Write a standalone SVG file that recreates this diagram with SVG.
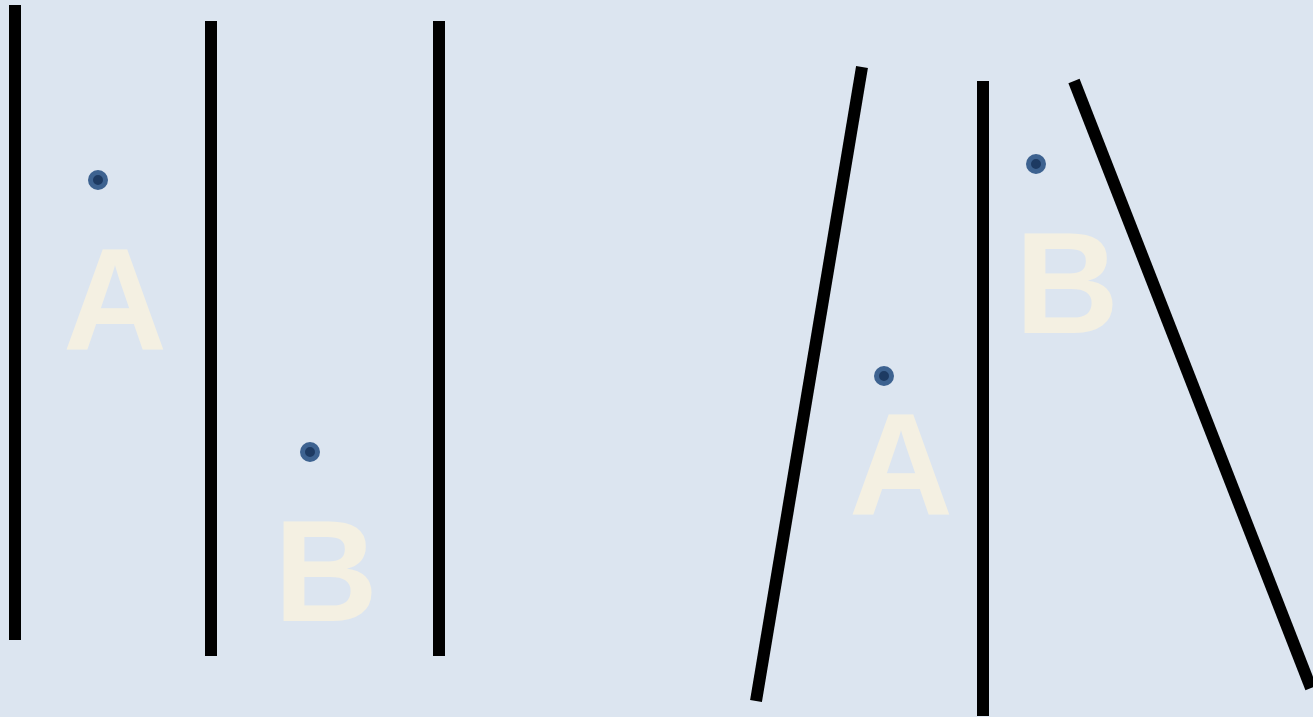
<svg xmlns="http://www.w3.org/2000/svg" width="1313" height="717" viewBox="0 0 1313 717">
<style>
.wall{stroke:#000;stroke-width:12;fill:none}
.lbl{font-family:"Liberation Sans",Arial,sans-serif;font-weight:bold;font-size:144px;fill:#f4f0e2;text-anchor:middle}
.dot{fill:#1d3a62;stroke:#3d6290;stroke-width:5}
</style>
<rect width="1313" height="717" fill="#dce5f0"/>
<g id="connectors">
<line class="wall" x1="15" y1="5" x2="15" y2="640"/>
<line class="wall" x1="211" y1="21" x2="211" y2="656"/>
<line class="wall" x1="439" y1="21" x2="439" y2="656"/>
<line class="wall" x1="862" y1="67" x2="756" y2="701"/>
<line class="wall" x1="983" y1="81" x2="983" y2="716"/>
<line class="wall" x1="1074" y1="81" x2="1311" y2="688"/>
</g>
<g id="nodeA1"><circle class="dot" cx="98" cy="180" r="7.5"/><text class="lbl" x="115" y="349">A</text></g>
<g id="nodeB1"><circle class="dot" cx="310" cy="452" r="7.5"/><text class="lbl" x="326" y="621">B</text></g>
<g id="nodeA2"><circle class="dot" cx="884" cy="376" r="7.5"/><text class="lbl" x="901" y="514">A</text></g>
<g id="nodeB2"><circle class="dot" cx="1036" cy="164" r="7.5"/><text class="lbl" x="1067" y="333">B</text></g>
</svg>
